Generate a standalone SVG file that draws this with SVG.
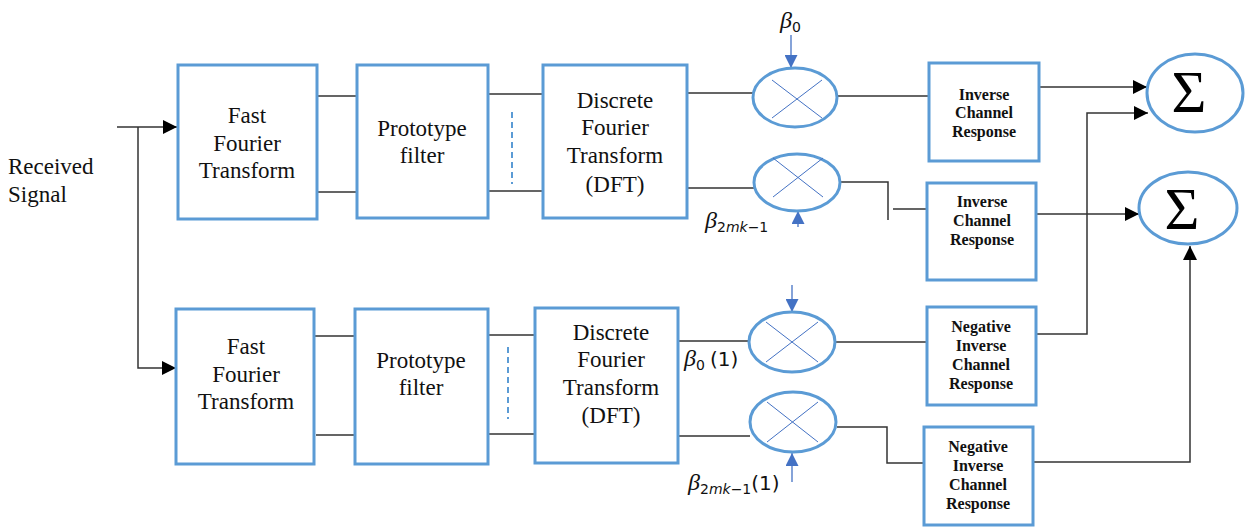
<svg xmlns="http://www.w3.org/2000/svg" width="1245" height="527" viewBox="0 0 1245 527">
<defs>
<marker id="ah" viewBox="0 0 14 14" refX="14" refY="7" markerWidth="14" markerHeight="14" markerUnits="userSpaceOnUse" orient="auto"><path d="M0,0 L14,7 L0,14 Z" fill="#000"/></marker>
<marker id="bh" viewBox="0 0 13 13" refX="13" refY="6.5" markerWidth="13" markerHeight="13" markerUnits="userSpaceOnUse" orient="auto"><path d="M0,0 L13,6.5 L0,13 Z" fill="#4472C4"/></marker>
</defs>
<style>
.box{fill:#fff;stroke:#5B9BD5;stroke-width:3}
.mul{fill:#fff;stroke:#5B9BD5;stroke-width:3}
.x{stroke:#4472C4;stroke-width:1}
text{font-family:'Liberation Serif','Times New Roman','DejaVu Serif',serif}
.t{font-size:23px;fill:#111;text-anchor:middle}
.tb{font-size:16px;font-weight:bold;fill:#111;text-anchor:middle}
.w{fill:none;stroke:#333;stroke-width:1.5}
.ba{fill:none;stroke:#4472C4;stroke-width:1.3}
.dash{stroke:#5B9BD5;stroke-width:2;stroke-dasharray:6,4}
.sig{font-size:60px;fill:#000;text-anchor:middle}
.beta{font-style:italic;font-size:24px;fill:#111}
.sub{font-family:'DejaVu Sans',sans-serif;font-style:normal;font-size:14px;fill:#111}
.subi{font-family:'DejaVu Sans',sans-serif;font-style:italic;font-size:14px;fill:#111}
.par{font-family:'DejaVu Sans',sans-serif;font-style:normal;font-size:20px;fill:#111}
</style>
<rect width="1245" height="527" fill="#fff"/>

<g id="connectors">
<path class="w" d="M117,127 H177" marker-end="url(#ah)"/>
<path class="w" d="M138,127 V368 H176" marker-end="url(#ah)"/>
<path class="w" d="M317,96 H357 M317,192 H357"/>
<path class="w" d="M488,94 H543 M488,191 H543"/>
<path class="w" d="M687,93 H753 M687,188 H754"/>
<path class="w" d="M837,96 H929"/>
<path class="w" d="M840,182 H888 V220 M893,209 H927"/>
<path class="w" d="M1039,87 H1147" marker-end="url(#ah)"/>
<path class="w" d="M1037,334 H1087 V113 H1148" marker-end="url(#ah)"/>
<path class="w" d="M1036,214 H1139" marker-end="url(#ah)"/>
<path class="w" d="M1033,462 H1190 V246" marker-end="url(#ah)"/>
<path class="w" d="M298,336 H355 M316,435 H355"/>
<path class="w" d="M475,335 H549 M488,434 H535"/>
<path class="w" d="M671,341 H749 M672,436 H750"/>
<path class="w" d="M834,342 H927"/>
<path class="w" d="M837,427 H887 V463 H924"/>
<line class="dash" x1="512" y1="112" x2="512" y2="184"/>
<line class="dash" x1="508" y1="347" x2="508" y2="419"/>
<path class="ba" d="M791,35 V68" marker-end="url(#bh)"/>
<path class="ba" d="M798,227 V211" marker-end="url(#bh)"/>
<path class="ba" d="M792,285 V312" marker-end="url(#bh)"/>
<path class="ba" d="M792,482 V453" marker-end="url(#bh)"/>
</g>

<g id="received-signal">
<text class="t" x="8" y="174" style="text-anchor:start">Received</text>
<text class="t" x="8" y="202" style="text-anchor:start">Signal</text>
</g>

<g id="fft1">
<rect class="box" x="178" y="65" width="139" height="154"/>
<text class="t" x="247" y="123">Fast</text>
<text class="t" x="247" y="151">Fourier</text>
<text class="t" x="247" y="178">Transform</text>
</g>
<g id="proto1">
<rect class="box" x="357" y="65" width="131" height="153"/>
<text class="t" x="422" y="136">Prototype</text>
<text class="t" x="422" y="163">filter</text>
</g>
<g id="dft1">
<rect class="box" x="543" y="65" width="144" height="153"/>
<text class="t" x="615" y="108">Discrete</text>
<text class="t" x="615" y="135">Fourier</text>
<text class="t" x="615" y="163">Transform</text>
<text class="t" x="615" y="192">(DFT)</text>
</g>
<g id="mult1">
<ellipse class="mul" cx="795" cy="97.5" rx="42" ry="29.5"/>
<line class="x" x1="772" y1="80" x2="822" y2="118"/>
<line class="x" x1="822" y1="80" x2="772" y2="118"/>
<text class="beta" x="780" y="28">β<tspan class="sub" dy="4">0</tspan></text>
</g>
<g id="mult2">
<ellipse class="mul" cx="797" cy="182.5" rx="43" ry="28.5"/>
<line class="x" x1="773" y1="158" x2="823" y2="197"/>
<line class="x" x1="823" y1="158" x2="773" y2="197"/>
<text class="beta" x="705" y="228">β<tspan class="sub" dy="4">2</tspan><tspan class="subi">mk</tspan><tspan class="sub">−1</tspan></text>
</g>
<g id="icr1">
<rect class="box" x="929" y="63" width="110" height="98"/>
<text class="tb" x="984" y="100">Inverse</text>
<text class="tb" x="984" y="118">Channel</text>
<text class="tb" x="984" y="137">Response</text>
</g>
<g id="icr2">
<rect class="box" x="927" y="183" width="109" height="97"/>
<text class="tb" x="982" y="207">Inverse</text>
<text class="tb" x="982" y="226">Channel</text>
<text class="tb" x="982" y="245">Response</text>
</g>
<g id="sum1">
<ellipse class="mul" cx="1195" cy="93" rx="48" ry="39"/>
<text class="sig" x="1189" y="112">Σ</text>
</g>
<g id="sum2">
<ellipse class="mul" cx="1188" cy="208" rx="49" ry="36"/>
<text class="sig" x="1182" y="229">Σ</text>
</g>

<g id="fft2">
<rect class="box" x="176" y="309" width="138" height="155"/>
<text class="t" x="246" y="354">Fast</text>
<text class="t" x="246" y="382">Fourier</text>
<text class="t" x="246" y="409">Transform</text>
</g>
<g id="proto2">
<rect class="box" x="355" y="309" width="133" height="155"/>
<text class="t" x="421" y="368">Prototype</text>
<text class="t" x="421" y="395">filter</text>
</g>
<g id="dft2">
<rect class="box" x="535" y="308" width="143" height="155"/>
<text class="t" x="611" y="340">Discrete</text>
<text class="t" x="611" y="367">Fourier</text>
<text class="t" x="611" y="395">Transform</text>
<text class="t" x="611" y="423">(DFT)</text>
</g>
<g id="mult3">
<ellipse class="mul" cx="792" cy="342" rx="43" ry="30"/>
<line class="x" x1="766" y1="322" x2="818" y2="362"/>
<line class="x" x1="818" y1="322" x2="766" y2="362"/>
<text class="beta" x="684" y="366">β<tspan class="sub" dy="4">0</tspan><tspan class="par" dy="-4" dx="5">(1)</tspan></text>
</g>
<g id="mult4">
<ellipse class="mul" cx="793" cy="422" rx="43" ry="30"/>
<line class="x" x1="767" y1="402" x2="818" y2="442"/>
<line class="x" x1="818" y1="402" x2="767" y2="442"/>
<text class="beta" x="688" y="490">β<tspan class="sub" dy="4">2</tspan><tspan class="subi">mk</tspan><tspan class="sub">−1</tspan><tspan class="par" dy="-4">(1)</tspan></text>
</g>
<g id="nicr1">
<rect class="box" x="927" y="307" width="109" height="98"/>
<text class="tb" x="981" y="332">Negative</text>
<text class="tb" x="981" y="351">Inverse</text>
<text class="tb" x="981" y="370">Channel</text>
<text class="tb" x="981" y="389">Response</text>
</g>
<g id="nicr2">
<rect class="box" x="924" y="427" width="109" height="98"/>
<text class="tb" x="978" y="452">Negative</text>
<text class="tb" x="978" y="471">Inverse</text>
<text class="tb" x="978" y="490">Channel</text>
<text class="tb" x="978" y="509">Response</text>
</g>
</svg>
